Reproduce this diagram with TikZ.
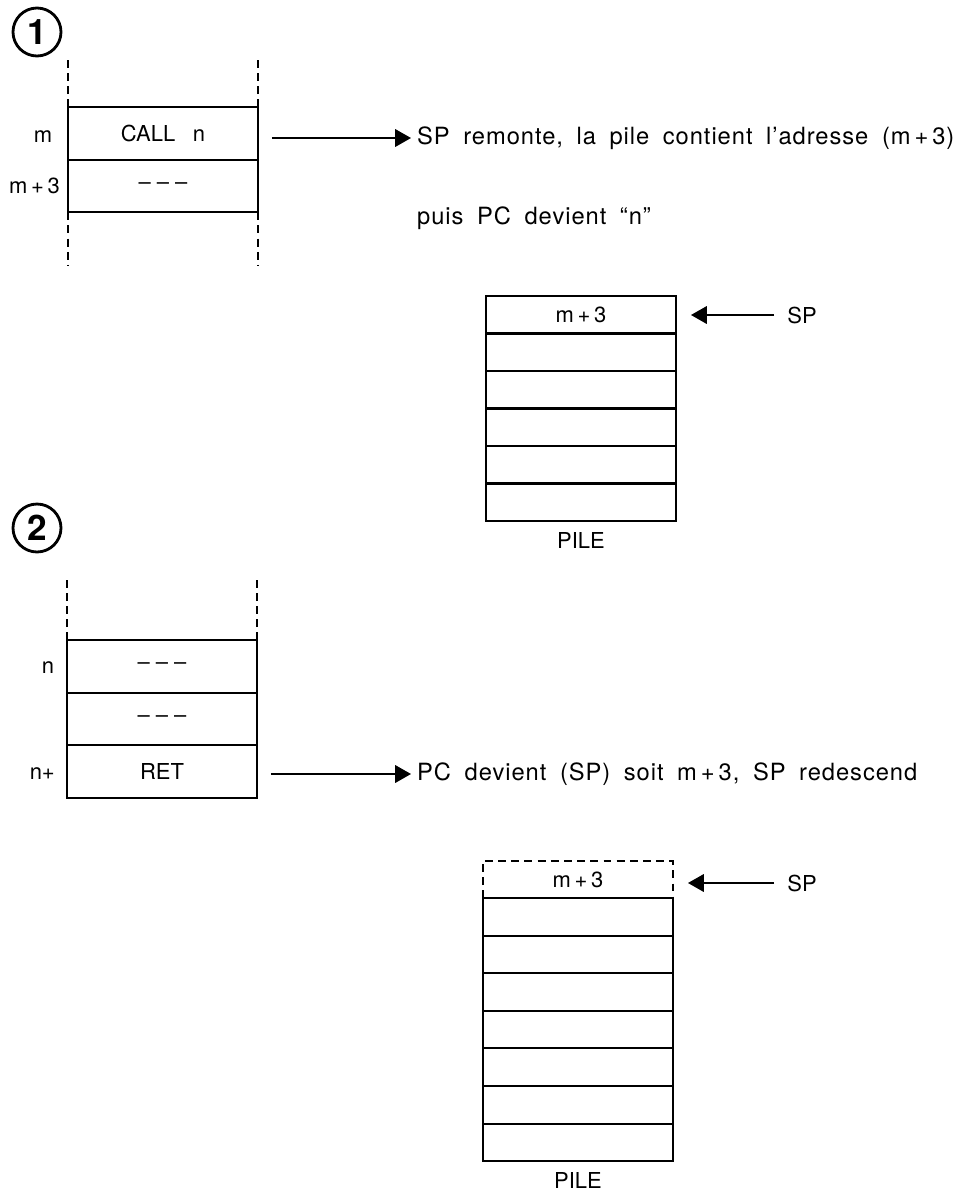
\documentclass[tikz,border=0pt]{standalone}
\usepackage{fontspec}
\setmainfont{TeX Gyre Heros}
\newfontfamily\notefont[WordSpace=1.8,LetterSpace=4]{TeX Gyre Heros}
\usetikzlibrary{arrows.meta,positioning,calc}

\begin{document}
\begin{tikzpicture}[x=0.02cm,y=-0.02cm,>={Triangle[length=9pt,width=10pt]},
  font=\fontsize{12.5}{15}\selectfont,
  cell/.style={draw,line width=1.1pt,minimum width=3.8cm,minimum height=1.05cm,inner sep=0pt,outer sep=0pt},
  pcell/.style={draw,line width=1.1pt,minimum width=3.8cm,minimum height=0.752cm,inner sep=0pt,outer sep=0pt},
  num/.style={draw,circle,line width=1.6pt,minimum size=0.96cm,inner sep=0pt,font=\fontsize{20}{22}\selectfont\bfseries},
  guide/.style={line width=1.1pt,dash pattern=on 4.5pt off 3pt},
  note/.style={anchor=west,font=\notefont\fontsize{13.5}{16}\selectfont},
  link/.style={->,line width=0.9pt}]
  \useasboundingbox (0,0) rectangle (959,1191);

  % 1 : CALL n
  \node[num] (one) at (37,32) {1};
  \node[cell] (call) at (163,133.5) {CALL\hspace{0.8em}n};
  \node[cell,below=0pt of call] (after) {-- -- --};
  \draw[guide] (call.north west) -- ++(0,-47);
  \draw[guide] (call.north east) -- ++(0,-47);
  \draw[guide] (after.south west) -- ++(0,54);
  \draw[guide] (after.south east) -- ++(0,54);
  \node (m) at (43,137) {m};
  \node[anchor=east] (m3) at (66,186) {m\,+\,3};
  \node[note] (t1) at (411,138) {SP remonte, la pile contient l’adresse (m\,+\,3)};
  \node[note] (t2) at (411,218) {puis PC devient “n”};
  \draw[link] ($(t1.west -| call.east)+(14,0)$) -- (t1.west);

  \foreach \i in {1,...,6}
    \node[pcell] (pa\i) at (581,{296+37.5*(\i-0.5)}) {};
  \node at (pa1) {m\,+\,3};
  \node[below=3pt of pa6] (pilea) {PILE};
  \node (spa) at (802,315) {SP};
  \draw[link] ([xshift=-0.14cm]spa.west) -- ($(spa.west -| pa1.east)+(15,0)$);

  % 2 : RET
  \node[num] (two) at (37,528) {2};
  \node[cell] (sub) at (162,666.5) {-- -- --};
  \node[cell,below=0pt of sub] (body) {-- -- --};
  \node[cell,below=0pt of body] (ret) {RET};
  \draw[guide] (sub.north west) -- ++(0,-60);
  \draw[guide] (sub.north east) -- ++(0,-60);
  \node (n) at (48,668) {n};
  \node[anchor=east] (nplus) at (61,774) {n+};
  \node[note] (t3) at (411,774) {PC devient (SP) soit m\,+\,3, SP redescend};
  \draw[link] ($(t3.west -| ret.east)+(14,0)$) -- (t3.west);

  \node[pcell,draw=none] (top) at (578,879.5) {m\,+\,3};
  \draw[guide] (top.south west) -- (top.north west) -- (top.north east) -- (top.south east);
  \foreach \i in {1,...,7}
    \node[pcell] (pb\i) at (578,{898+37.6*(\i-0.5)}) {};
  \node[below=3pt of pb7] (pileb) {PILE};
  \node (spb) at (802,883) {SP};
  \draw[link] ([xshift=-0.14cm]spb.west) -- ($(spb.west -| top.east)+(15,0)$);
\end{tikzpicture}
\end{document}
